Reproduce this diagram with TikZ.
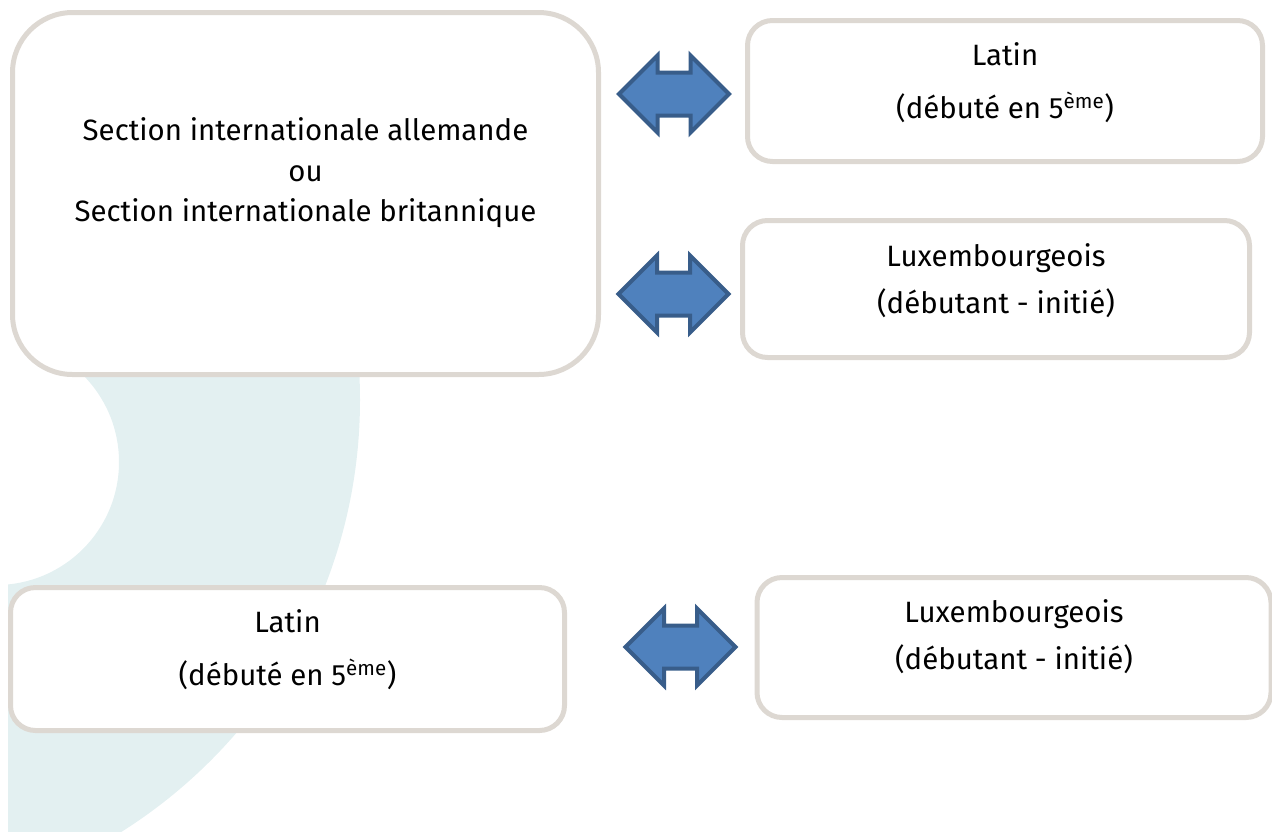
\documentclass[tikz,border=0pt]{standalone}
\usepackage{fontspec}
\setmainfont{Fira Sans}
\usepackage{xcolor}
\usepackage{tikz}
\usetikzlibrary{shapes.arrows}
\definecolor{boxLine}{HTML}{DDD8D2}
\definecolor{ringTeal}{HTML}{E3F0F1}
\definecolor{arrowFill}{HTML}{4F81BD}
\definecolor{arrowLine}{HTML}{385D8A}

\begin{document}
\begin{tikzpicture}[x=1pt,y=-1pt,
choiceBox/.style={shape=rectangle,draw=boxLine,fill=white,line width=5pt,
    rounded corners=25pt,inner sep=0},
bigBox/.style={choiceBox,rounded corners=60pt},
boxText/.style={align=center,inner sep=0,anchor=base,
    font=\fontsize{29.4}{53}\selectfont},
luxText/.style={boxText,font=\fontsize{29.4}{47}\selectfont},
bigText/.style={boxText,font=\fontsize{29.4}{40.5}\selectfont},
swapArrow/.style={shape=double arrow,draw=arrowLine,fill=arrowFill,line width=4pt,
    inner xsep=0,inner ysep=19.5pt,minimum height=110pt,
    double arrow head extend=17pt}
]
\useasboundingbox (0,0) rectangle (1272,831);
% teal ring behind the boxes
\begin{scope}
\clip (8,370) rectangle (1272,831);
\fill[ringTeal,even odd rule] (-150,400) circle[radius=510pt] (-4,462) circle[radius=123pt];
\end{scope}
\node[bigBox,minimum width=586pt,minimum height=362pt] (secBox) at (305.5,193.5) {};
\node[choiceBox,minimum width=515pt,minimum height=141pt] (latinA) at (1005,91) {};
\node[choiceBox,minimum width=507pt,minimum height=137pt] (luxA) at (996,289) {};
\node[choiceBox,minimum width=554pt,minimum height=143pt] (latinB) at (287.5,659) {};
\node[choiceBox,minimum width=514pt,minimum height=140pt] (luxB) at (1014,647.5) {};
% anchor=base sits on the last line
\node[bigText] (secText) at ([yshift=-211.7pt]secBox.north) {Section internationale allemande\\ou\\Section internationale britannique};
\node[boxText] (latinAText) at ([yshift=-100pt]latinA.north) {Latin\\(débuté en 5\textsuperscript{ème})};
\node[luxText] (luxAText) at ([yshift=-95pt]luxA.north) {Luxembourgeois\\(débutant - initié)};
\node[boxText] (latinBText) at ([yshift=-100pt]latinB.north) {Latin\\(débuté en 5\textsuperscript{ème})};
\node[luxText] (luxBText) at ([yshift=-94pt]luxB.north) {Luxembourgeois\\(débutant - initié)};
\node[swapArrow] (arrA) at (674,94) {};
\node[swapArrow] (arrB) at (673.5,294) {};
\node[swapArrow] (arrC) at (680.5,647) {};
\end{tikzpicture}
\end{document}
